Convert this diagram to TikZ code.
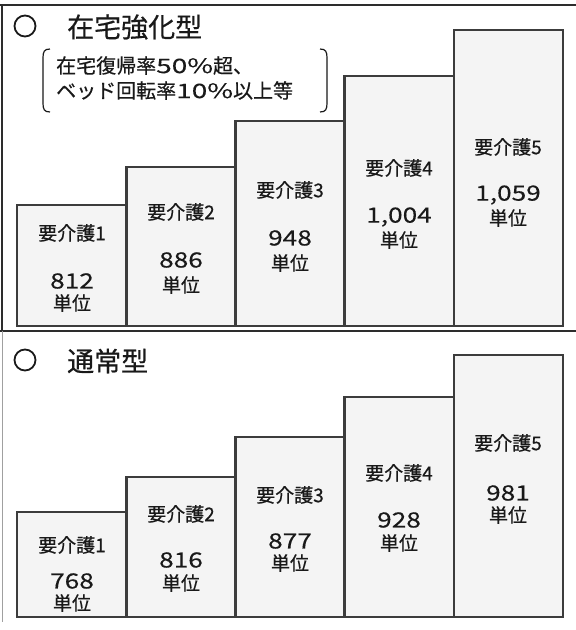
\documentclass[tikz,border=0pt]{standalone}
\usepackage{fontspec}
\setmainfont{Noto Sans CJK JP}[FakeBold=0.5]
\newfontfamily\numfont{Noto Sans CJK JP}[FakeBold=0.25, FakeStretch=1.25]
\newfontfamily\notenum{Noto Sans CJK JP}[FakeBold=0.25, FakeStretch=1.4]
\usetikzlibrary{positioning}
\definecolor{framedark}{RGB}{45, 45, 45}
\definecolor{edgegray}{RGB}{160, 160, 160}
\definecolor{barfill}{RGB}{244, 244, 244}
\definecolor{barline}{RGB}{60, 60, 60}
\definecolor{textdark}{RGB}{25, 25, 25}

\begin{document}
\begin{tikzpicture}[
    x=1pt, y=-1pt,
    bar/.style={rectangle, draw=barline, fill=barfill, line width=2.6pt, minimum width=109.2pt, anchor=south west, inner sep=0pt, outer sep=0pt},
    level/.style={font=\fontsize{19}{19}\selectfont, color=textdark, inner sep=0pt},
    points/.style={font=\fontsize{21}{21}\selectfont\numfont, color=textdark, inner sep=0pt},
    unit/.style={font=\fontsize{19}{19}\selectfont, color=textdark, inner sep=0pt},
    heading/.style={font=\fontsize{27}{27}\selectfont, color=textdark, anchor=west, inner sep=0pt},
    bullet/.style={circle, draw=textdark, line width=1.8pt, minimum size=21pt, inner sep=0pt},
]
\useasboundingbox (0,0) rectangle (576,630);

% Frame
\draw[framedark, line width=2pt] (0,5) -- (576,5);
\draw[framedark, line width=2pt] (2,5) -- (2,331);
\draw[framedark, line width=2pt] (0,331) -- (576,331);
\draw[edgegray, line width=1pt] (2,331) -- (2,622);

% Upper panel heading
\node[bullet] (mark1) at (25, 26) {};
\node[heading] (title1) at (67, 27) {在宅強化型};
\node[font=\fontsize{20}{25}\selectfont, align=left, anchor=west, color=textdark, inner sep=0pt] (cond) at (56, 78) {在宅復帰率{\notenum 50\%}超、\\ベッド回転率{\notenum 10\%}以上等};
\draw[textdark, line width=1.2pt] (50,49) .. controls (44,49) and (43,52) .. (43,58) -- (43,103) .. controls (43,109) and (44,112) .. (50,112);
\draw[textdark, line width=1.2pt] (320,49) .. controls (326,49) and (327,52) .. (327,58) -- (327,103) .. controls (327,109) and (326,112) .. (320,112);

% Upper panel bars
\node[bar, minimum height=121pt] (a1) at (17, 326) {};
\node[bar, minimum height=159pt] (a2) at (126.2, 326) {};
\node[bar, minimum height=205pt] (a3) at (235.4, 326) {};
\node[bar, minimum height=250pt] (a4) at (344.6, 326) {};
\node[bar, minimum height=296pt] (a5) at (453.8, 326) {};

\node[level] (a1name) at (72, 233) {要介護1};
\node[points] (a1pts) at (72, 281) {812};
\node[unit] (a1unit) at (72, 303) {単位};
\node[level] (a2name) at (181, 212) {要介護2};
\node[points] (a2pts) at (181, 260) {886};
\node[unit] (a2unit) at (181, 285) {単位};
\node[level] (a3name) at (290, 190) {要介護3};
\node[points] (a3pts) at (290, 238) {948};
\node[unit] (a3unit) at (290, 263) {単位};
\node[level] (a4name) at (399, 168) {要介護4};
\node[points] (a4pts) at (399, 217) {1,004};
\node[unit] (a4unit) at (399, 240) {単位};
\node[level] (a5name) at (508, 147) {要介護5};
\node[points] (a5pts) at (508, 195) {1,059};
\node[unit] (a5unit) at (508, 218) {単位};

% Lower panel heading
\node[bullet] (mark2) at (25, 360) {};
\node[heading] (title2) at (67, 361) {通常型};

% Lower panel bars
\node[bar, minimum height=105pt] (b1) at (17, 617) {};
\node[bar, minimum height=140pt] (b2) at (126.2, 617) {};
\node[bar, minimum height=180pt] (b3) at (235.4, 617) {};
\node[bar, minimum height=220pt] (b4) at (344.6, 617) {};
\node[bar, minimum height=262pt] (b5) at (453.8, 617) {};

\node[level] (b1name) at (72, 545) {要介護1};
\node[points] (b1pts) at (72, 581) {768};
\node[unit] (b1unit) at (72, 603) {単位};
\node[level] (b2name) at (181, 514) {要介護2};
\node[points] (b2pts) at (181, 560) {816};
\node[unit] (b2unit) at (181, 583) {単位};
\node[level] (b3name) at (290, 495) {要介護3};
\node[points] (b3pts) at (290, 541) {877};
\node[unit] (b3unit) at (290, 563) {単位};
\node[level] (b4name) at (399, 473) {要介護4};
\node[points] (b4pts) at (399, 520) {928};
\node[unit] (b4unit) at (399, 543) {単位};
\node[level] (b5name) at (508, 443) {要介護5};
\node[points] (b5pts) at (508, 493) {981};
\node[unit] (b5unit) at (508, 515) {単位};

\end{tikzpicture}
\end{document}
